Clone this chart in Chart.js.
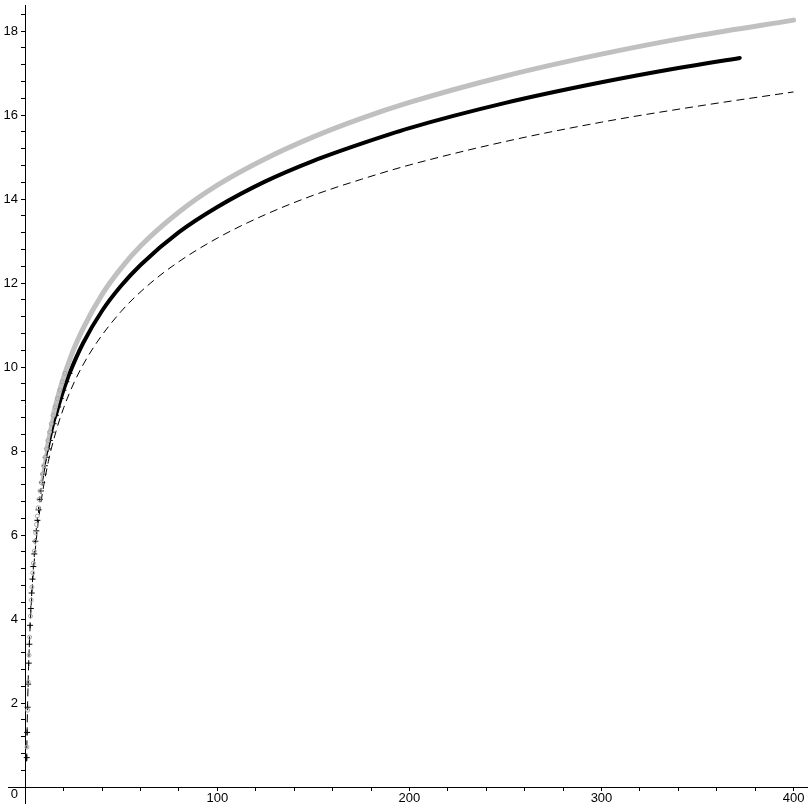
<!DOCTYPE html>
<html><head><meta charset="utf-8">
<script src="https://cdn.jsdelivr.net/npm/chart.js@4/dist/chart.umd.min.js"></script>
<style>html,body{margin:0;padding:0;background:#fff;} #wrap{width:812px;height:812px;}</style>
</head><body>
<div id="wrap"><canvas id="c" width="812" height="812"></canvas></div>
<script>
// Gray curve (circle symbols, dense -> thick band)
const grayX = [0.90,1.23,1.55,1.95,2.26,2.70,3.09,3.44,3.88,4.21,4.66,5.05,5.42,5.82,6.24,6.70,7.18,7.71,8.27,8.87,9.52,10.22,10.96,11.76,12.62,13.54,14.53,15.58,16.72,17.94,19.25,20.66,22.17,25,30,40,50,60,80,100,125,150,175,200,250,300,350,400];
const grayY = [0.95,1.83,2.5,3.14,3.57,4.07,4.45,4.76,5.1,5.33,5.62,5.85,6.05,6.25,6.45,6.65,6.85,7.05,7.25,7.45,7.65,7.85,8.05,8.25,8.45,8.65,8.85,9.05,9.25,9.45,9.65,9.85,10.05,10.40,10.91,11.73,12.36,12.88,13.69,14.33,14.96,15.48,15.92,16.30,16.93,17.45,17.89,18.26];
// Black curve (cross symbols, dense -> thick band)
const blackX = [0.78,0.97,1.21,1.49,1.79,2.11,2.50,2.89,3.32,3.75,4.19,4.69,5.24,5.74,6.30,6.91,7.58,8.17,8.79,9.47,10.20,10.98,11.83,12.73,13.72,14.77,15.91,17.13,18.45,19.87,21.39,23.03,30,40,50,60,80,100,125,150,175,200,250,300,340,372];
const blackY = [0.7,1.3,1.9,2.45,2.95,3.4,3.85,4.25,4.62,4.95,5.25,5.55,5.85,6.1,6.35,6.6,6.85,7.05,7.25,7.45,7.65,7.85,8.05,8.25,8.45,8.65,8.85,9.05,9.25,9.45,9.65,9.85,10.56,11.34,11.94,12.43,13.21,13.81,14.42,14.91,15.32,15.69,16.29,16.78,17.12,17.36];
// Thin dashed curve
const dashX = [0.7,1,1.5,2,3,4,6,8,12,16,20,26,35,50,65,80,100,125,150,175,200,250,300,350,400];
const dashY = [0.61,1.51,2.53,3.25,4.27,4.99,6.01,6.73,7.75,8.47,9.03,9.69,10.43,11.33,11.99,12.51,13.07,13.63,14.09,14.47,14.81,15.37,15.83,16.21,16.55];
// Axis ticks
const xMajor = [100, 200, 300, 400];
const yMajor = [0, 2, 4, 6, 8, 10, 12, 14, 16, 18];

const toPts = (xs, ys) => xs.map((x, i) => ({x: x, y: ys[i]}));
const font = {family: "'Liberation Sans Narrow', 'Liberation Sans', Arial, sans-serif", size: 13};
const CLEAR = 'rgba(0,0,0,0)';
const bandColor = (col) => ctx => ctx.p0.parsed.y < 7.2 ? CLEAR : col;
const bandWidth = (w) => ctx => {
  const y = ctx.p0.parsed.y;
  return y < 7.2 ? 1 : y < 8.0 ? w * 0.4 : y < 8.8 ? w * 0.7 : w;
};

new Chart(document.getElementById('c'), {
  type: 'scatter',
  data: {
    datasets: [
      {
        data: toPts(grayX, grayY), showLine: true, order: 1,
        borderColor: '#c0c0c0', borderWidth: 5, cubicInterpolationMode: 'monotone',
        borderCapStyle: 'round', borderJoinStyle: 'round',
        segment: { borderColor: bandColor('#c0c0c0'), borderWidth: bandWidth(5) },
        pointStyle: 'circle',
        pointRadius: ctx => (ctx.parsed && ctx.parsed.y < 9.9) ? 2 : 0,
        pointBorderColor: '#a8a8a8', pointBackgroundColor: 'rgba(255,255,255,0)', pointBorderWidth: 1
      },
      {
        data: toPts(blackX, blackY), showLine: true, order: 2,
        borderColor: '#000', borderWidth: 4, cubicInterpolationMode: 'monotone',
        borderCapStyle: 'round', borderJoinStyle: 'round',
        segment: { borderColor: bandColor('#000'), borderWidth: bandWidth(4) },
        pointStyle: 'cross',
        pointRadius: ctx => (ctx.parsed && ctx.parsed.y < 9.9) ? 3 : 0,
        pointBorderColor: '#000', pointBorderWidth: 1
      },
      {
        data: toPts(dashX, dashY), showLine: true, order: 3,
        borderColor: '#000', borderWidth: 1, borderDash: [8, 5], cubicInterpolationMode: 'monotone',
        pointRadius: 0
      }
    ]
  },
  options: {
    responsive: false, animation: false, events: [], devicePixelRatio: 1,
    layout: { padding: { left: 8, right: 5, top: 5, bottom: 9 } },
    plugins: { legend: { display: false }, tooltip: { enabled: false } },
    scales: {
      x: {
        type: 'linear', min: -9, max: 407, position: { y: 0 },
        afterFit: s => { s.height = 0; s.paddingLeft = 0; s.paddingRight = 0; },
        grid: { display: true, drawOnChartArea: false, drawTicks: true, tickLength: 3, color: '#000' },
        border: { display: true, color: '#000', width: 1 },
        ticks: {
          stepSize: 20, autoSkip: false, includeBounds: false, maxRotation: 0, minRotation: 0,
          padding: 1, color: '#000', font: font,
          callback: v => xMajor.includes(Math.round(v)) && Math.abs(v - Math.round(v)) < 1e-6 ? String(Math.round(v)) : ''
        }
      },
      y: {
        type: 'linear', min: -0.38, max: 18.62, position: { x: 0 },
        afterFit: s => { s.width = 0; s.paddingTop = 0; s.paddingBottom = 0; },
        grid: { display: true, drawOnChartArea: false, drawTicks: true, tickLength: 4, color: '#000' },
        border: { display: true, color: '#000', width: 1 },
        ticks: {
          stepSize: 0.4, autoSkip: false, includeBounds: false, padding: 1, color: '#000', font: font,
          callback: v => {
            const r = Math.round(v);
            if (Math.abs(v - r) > 1e-6 || !yMajor.includes(r)) return '';
            return r === 0 ? ['', '0  '] : String(r) + '  ';
          }
        }
      }
    }
  }
});
</script>
</body></html>
